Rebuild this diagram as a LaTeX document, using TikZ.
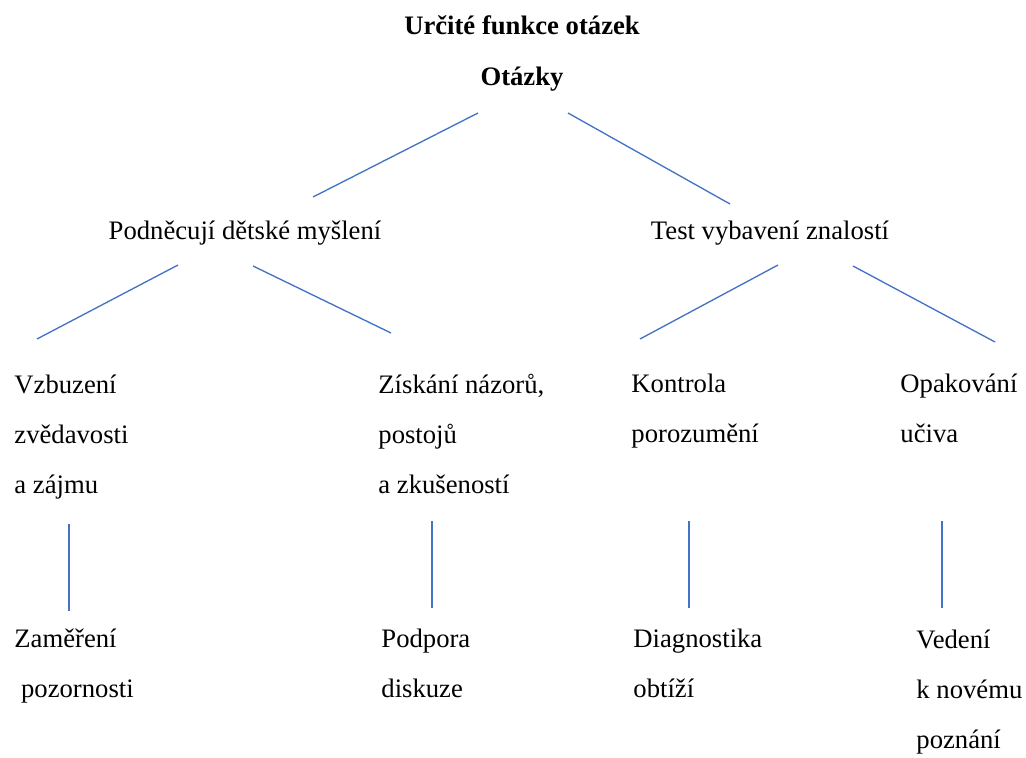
\documentclass[tikz,border=0pt]{standalone}
\usepackage{fontspec}
\setmainfont{Liberation Serif}
\usetikzlibrary{positioning,calc}
\definecolor{lineblue}{RGB}{68,114,196}
\tikzset{
  label12/.style={inner sep=0pt,font=\fontsize{12}{22.5}\selectfont},
  headtext/.style={label12,anchor=base},
  boldtext/.style={headtext,font=\fontsize{12}{22.5}\selectfont\bfseries},
  leaftext/.style={label12,align=left,anchor=base west},
  link/.style={draw=lineblue,line width=0.6pt}
}

\begin{document}
\begin{tikzpicture}[x=0.45pt,y=-0.45pt]
\useasboundingbox (0,0) rectangle (1026,758);

%title and root
\node [boldtext] (title) at (522,35) {Určité funkce otázek};
\node [boldtext] (otazky) at (522,86) {Otázky};

%second level
\node [headtext] (podnecuji) at (245,240) {Podněcují dětské myšlení};
\node [headtext] (test) at (770,240) {Test vybavení znalostí};

%third level (base = last line)
\node [leaftext] (vzbuzeni) at (14,493) {Vzbuzení\\zvědavosti\\a zájmu};
\node [leaftext] (ziskani) at (378,493) {Získání názorů,\\postojů\\a zkušeností};
\node [leaftext] (kontrola) at (631,443) {Kontrola\\porozumění};
\node [leaftext] (opakovani) at (900,443) {Opakování\\učiva};

%fourth level
\node [leaftext] (zamereni) at (14,697) {Zaměření\\\ pozornosti};
\node [leaftext] (podpora) at (381,697) {Podpora\\diskuze};
\node [leaftext] (diagnostika) at (633,697) {Diagnostika\\obtíží};
\node [leaftext] (vedeni) at (916,748) {Vedení\\k novému\\poznání};

%line ends
\coordinate (otazkyl) at (478,113);
\coordinate (otazkyr) at (568,113);
\coordinate (podnecujitop) at (313,197);
\coordinate (testtop) at (730,204);
\coordinate (podnecujil) at (178,265);
\coordinate (podnecujir) at (253,266);
\coordinate (vzbuzenitop) at (37,339);
\coordinate (ziskanitop) at (391,333);
\coordinate (testl) at (778,265);
\coordinate (testr) at (853,266);
\coordinate (kontrolatop) at (640,339);
\coordinate (opakovanitop) at (995,342);

\draw [link] (otazkyl) -- (podnecujitop);
\draw [link] (otazkyr) -- (testtop);
\draw [link] (podnecujil) -- (vzbuzenitop);
\draw [link] (podnecujir) -- (ziskanitop);
\draw [link] (testl) -- (kontrolatop);
\draw [link] (testr) -- (opakovanitop);

%vertical links
\foreach \name/\x/\top/\bot in {vzbuzeni/69/524/611, ziskani/432/521/608, kontrola/689/521/608, opakovani/942/521/608} {
  \coordinate (\name low) at (\x,\top);
  \coordinate (\name end) at (\x,\bot);
  \draw [link] (\name low) -- (\name end);
}

\end{tikzpicture}
\end{document}
